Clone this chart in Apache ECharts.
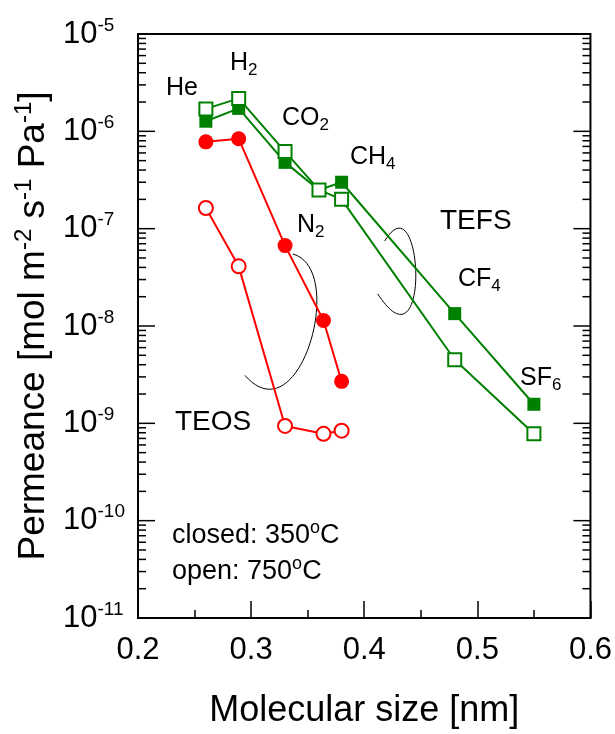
<!DOCTYPE html>
<html><head><meta charset="utf-8">
<script src="https://cdn.jsdelivr.net/npm/echarts@6/dist/echarts.min.js"></script>
<style>html,body{margin:0;padding:0;background:#fff}#c{width:615px;height:734px}</style>
</head><body><div id="c"></div>
<script>
// ---- data ----
const gasesTEOS = ['He', 'H2', 'CO2', 'N2', 'CH4'];
const sizeTEOS = [0.26, 0.289, 0.33, 0.364, 0.38];
const teosClosed = [7.8e-7, 8.4e-7, 6.7e-8, 1.14e-8, 2.7e-9];   // 350 oC (filled)
const teosOpen = [1.63e-7, 4.1e-8, 9.4e-10, 7.8e-10, 8.4e-10];  // 750 oC (open)
const gasesTEFS = ['He', 'H2', 'CO2', 'N2', 'CH4', 'CF4', 'SF6'];
const sizeTEFS = [0.26, 0.289, 0.33, 0.36, 0.38, 0.48, 0.55];
const tefsClosed = [1.27e-6, 1.72e-6, 4.8e-7, 2.5e-7, 3.0e-7, 1.34e-8, 1.57e-9];
const tefsOpen = [1.70e-6, 2.18e-6, 6.2e-7, 2.5e-7, 2.0e-7, 4.5e-9, 7.8e-10];
const xTickValues = [0.2, 0.3, 0.4, 0.5, 0.6];
const yDecadeExps = [-11, -10, -9, -8, -7, -6, -5];
// annotation arcs (cubic bezier control points, data units)
const teosArc = [[0.3369, 5.5e-8], [0.3850, 3.86e-8], [0.3430, 7.06e-10], [0.2945, 3.11e-9]];
const tefsArc = [[0.4181, 7.46e-8], [0.452, 3.4e-7], [0.4596, 3.0e-9], [0.4119, 2.14e-8]];

const FONT = '"Liberation Sans", Arial, sans-serif';
const GREEN = '#008000', RED = '#ff0000';

function pairs(xs, ys) { return xs.map((x, i) => [x, ys[i]]); }

// y tick marks (major decades + log minor ticks)
const yTickMarks = [];
yDecadeExps.forEach((e, i) => {
  yTickMarks.push([0.4, Math.pow(10, e), 1]);
  if (i < yDecadeExps.length - 1) {
    for (let k = 2; k <= 9; k++) yTickMarks.push([0.4, k * Math.pow(10, e), 0]);
  }
});

const chart = echarts.init(document.getElementById('c'), null, { renderer: 'canvas' });

function lineSeries(name, xs, ys, color, symbol, filled, size) {
  return {
    name, type: 'line', data: pairs(xs, ys), symbol, symbolSize: size,
    showSymbol: true, animation: false,
    lineStyle: { color, width: 2 },
    itemStyle: filled ? { color, borderColor: color, borderWidth: 0 } : { color: '#fff', borderColor: color, borderWidth: 2 },
    z: filled ? 3 : 4
  };
}

function textEl(x, y, rich) {
  return { type: 'text', x, y, z: 100, style: Object.assign({ align: 'left', verticalAlign: 'middle' }, rich) };
}
function chem(x, y, main, sub, fs) {
  return textEl(x, y, {
    text: sub ? '{m|' + main + '}{s|' + sub + '}' : '{m|' + main + '}',
    rich: {
      m: { fontSize: fs, lineHeight: fs + 7, fontFamily: FONT, color: '#000' },
      s: { fontSize: 17, lineHeight: 17, fontFamily: FONT, color: '#000', verticalAlign: 'bottom' }
    }
  });
}
function supText(x, y, pre, sup, post, fs) {
  return textEl(x, y, {
    text: '{m|' + pre + '}{u|' + sup + '}{m|' + post + '}',
    rich: {
      m: { fontSize: fs, lineHeight: fs + 6, fontFamily: FONT, color: '#000' },
      u: { fontSize: 18, lineHeight: 18, fontFamily: FONT, color: '#000', verticalAlign: 'top' }
    }
  });
}

const option = {
  backgroundColor: '#fff',
  animation: false,
  grid: { left: 138, right: 24, top: 34, bottom: 113, show: true, borderColor: '#000', borderWidth: 2, backgroundColor: 'transparent' },
  xAxis: {
    type: 'value', min: 0.2, max: 0.6, interval: 0.1,
    name: 'Molecular size [nm]', nameLocation: 'middle', nameGap: 75,
    nameTextStyle: { fontSize: 36, fontFamily: FONT, color: '#000' },
    axisLine: { lineStyle: { color: '#000', width: 2 } },
    axisTick: { inside: true, length: 17, lineStyle: { color: '#000', width: 1.5 } },
    minorTick: { show: true, splitNumber: 2, length: 8, lineStyle: { color: '#000', width: 1.5 } },
    splitLine: { show: false },
    axisLabel: { fontSize: 31, fontFamily: FONT, color: '#000', margin: 17,
      formatter: v => xTickValues.find(t => Math.abs(t - v) < 1e-9).toFixed(1) }
  },
  yAxis: {
    type: 'log', logBase: 10, min: 1e-11, max: 1e-5, interval: 1,
    name: '{t|Permeance [mol m}{u|-2}{t| s}{u|-1}{t| Pa}{u|-1}{t|]}',
    nameLocation: 'middle', nameGap: 82, nameRotate: 90,
    nameTextStyle: { rich: {
      t: { fontSize: 37, lineHeight: 43, fontFamily: FONT, color: '#000' },
      u: { fontSize: 24, lineHeight: 24, fontFamily: FONT, color: '#000', verticalAlign: 'top' }
    } },
    axisLine: { lineStyle: { color: '#000', width: 2 } },
    axisTick: { show: false },
    splitLine: { show: false },
    axisLabel: {
      align: 'left', margin: 75,
      formatter: v => '{b|10}{s|' + Math.round(Math.log10(v)) + '}',
      rich: {
        b: { fontSize: 31, lineHeight: 36, fontFamily: FONT, color: '#000' },
        s: { fontSize: 19, lineHeight: 19, fontFamily: FONT, color: '#000', verticalAlign: 'top' }
      }
    }
  },
  series: [
    {
      type: 'custom', silent: true, animation: false, clip: false, z: 1,
      data: yTickMarks,
      renderItem: (params, api) => {
        const v = api.value(1), major = api.value(2) === 1;
        const len = major ? 17 : 8;
        const p = api.coord([0.2, v]), q = api.coord([0.6, v]);
        const st = { stroke: '#000', lineWidth: 1.5 };
        return { type: 'group', children: [
          { type: 'line', shape: { x1: p[0], y1: p[1], x2: p[0] + len, y2: p[1] }, style: st },
          { type: 'line', shape: { x1: q[0], y1: q[1], x2: q[0] - len, y2: q[1] }, style: st }
        ] };
      }
    },
    {
      type: 'custom', silent: true, animation: false, clip: false, z: 2,
      data: [[0.4, 1e-8, 0], [0.4, 1e-8, 1]],
      renderItem: (params, api) => {
        const arc = api.value(2) === 0 ? teosArc : tefsArc;
        const pts = arc.map(a => api.coord(a));
        return { type: 'bezierCurve', shape: {
          x1: pts[0][0], y1: pts[0][1], cpx1: pts[1][0], cpy1: pts[1][1],
          cpx2: pts[2][0], cpy2: pts[2][1], x2: pts[3][0], y2: pts[3][1] },
          style: { stroke: '#000', fill: null, lineWidth: 1 } };
      }
    },
    lineSeries('TEFS 350', sizeTEFS, tefsClosed, GREEN, 'rect', true, 13),
    lineSeries('TEFS 750', sizeTEFS, tefsOpen, GREEN, 'rect', false, 13),
    lineSeries('TEOS 350', sizeTEOS, teosClosed, RED, 'circle', true, 15),
    lineSeries('TEOS 750', sizeTEOS, teosOpen, RED, 'circle', false, 14)
  ],
  graphic: [
    chem(166, 88, 'He', '', 25),
    chem(230, 63, 'H', '2', 25),
    chem(282, 118, 'CO', '2', 25),
    chem(350, 157, 'CH', '4', 25),
    chem(297, 225, 'N', '2', 25),
    chem(440, 221, 'TEFS', '', 28),
    chem(458, 279, 'CF', '4', 25),
    chem(520, 378, 'SF', '6', 25),
    chem(175, 422, 'TEOS', '', 28),
    supText(172, 536, 'closed: 350', 'o', 'C', 27),
    supText(172, 572, 'open: 750', 'o', 'C', 27)
  ]
};
chart.setOption(option);
</script>
</body></html>
